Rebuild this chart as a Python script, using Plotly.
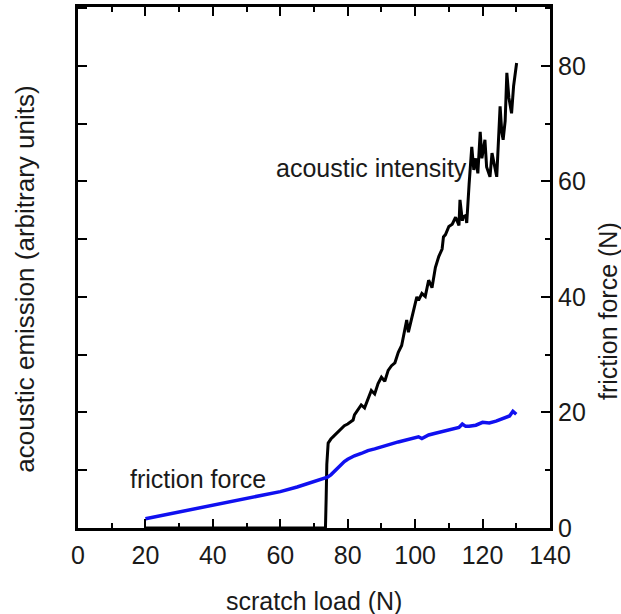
import plotly.graph_objects as go

# acoustic intensity (black)
ae_load = [20, 73.4, 73.6, 73.8, 74.2, 75, 76, 76.7, 78, 79, 80, 81, 81.6, 82, 83, 84, 85, 86, 86.6, 87, 88,
           89, 90, 91, 92, 93, 94, 95, 96, 97, 97.5, 98, 99, 100, 100.5, 101, 102, 103, 104, 104.4, 105,
           106, 107, 108, 108.4, 109, 110, 111, 112, 113, 113.3, 114, 114.3, 115, 115.3, 116, 116.8,
           117.4, 118, 118.6, 119.3, 119.8, 120.7, 121.2, 122.2, 122.8, 123.7, 124.2, 125.2, 125.7,
           126.1, 126.7, 127.2, 127.8, 128.6, 129.2, 130.1]
ae_val = [0, 0, 5, 11, 14.7, 15.4, 16.0, 16.4, 17.2, 17.7, 18.0, 18.4, 18.7, 19.6, 20.4, 21.3, 20.8, 22.4,
          23.3, 23.8, 23.2, 25.0, 26.1, 25.4, 27.3, 28.1, 28.6, 30.4, 31.6, 34.6, 36.0, 33.9, 36.6, 38.8,
          40.0, 39.4, 40.6, 40.1, 42.9, 42.4, 41.6, 45.1, 47.0, 48.3, 50.4, 50.8, 52.2, 52.6, 53.8, 52.4,
          56.8, 53.2, 53.9, 54.1, 52.8, 59.5, 66.0, 62.0, 64.0, 61.4, 68.6, 64.0, 67.2, 62.5, 60.8, 64.9,
          62.0, 60.8, 73.0, 68.5, 67.2, 70.5, 78.8, 74.5, 71.8, 76.5, 80.5]

# friction force (blue)
ff_load = [20, 25, 30, 35, 40, 45, 50, 55, 60, 65, 70, 72, 74, 75, 76, 77, 78, 79, 80, 82, 84, 86,
           88, 90, 92, 95, 98, 100, 101, 102, 104, 106, 108, 110, 112, 113, 114, 115, 116, 118, 120,
           122, 124, 126, 127, 128, 129, 130]
ff_val = [1.6, 2.2, 2.8, 3.4, 4.0, 4.6, 5.1, 5.7, 6.3, 7.1, 8.0, 8.4, 8.8, 9.2, 9.8, 10.4, 11.0, 11.5,
          11.9, 12.5, 12.9, 13.4, 13.7, 14.1, 14.4, 14.9, 15.3, 15.6, 15.8, 15.5, 16.1, 16.4, 16.7, 17.0,
          17.3, 17.4, 18.0, 17.6, 17.6, 17.8, 18.3, 18.2, 18.5, 19.0, 19.1, 19.4, 20.2, 19.7]

x_range = [0, 140]
y_range = [0, 90.2]

FONT = "Liberation Sans, Arial, sans-serif"
TXT = "#1a1a1a"
FS = 25

fig = go.Figure()
fig.add_trace(go.Scatter(x=ae_load, y=ae_val, mode="lines",
                         line=dict(color="black", width=3), xaxis="x", yaxis="y", showlegend=False))
fig.add_trace(go.Scatter(x=ff_load, y=ff_val, mode="lines",
                         line=dict(color="#1010f0", width=3.5), xaxis="x2", yaxis="y2", showlegend=False))

tick_common = dict(ticks="inside", ticklen=9, tickwidth=2, tickcolor="black",
                   showline=True, linewidth=3, linecolor="black", showgrid=False, zeroline=False)
minor_common = dict(dtick=10, ticks="inside", ticklen=5, tickwidth=2, tickcolor="black")

fig.update_layout(
    width=621, height=614,
    margin=dict(l=78, r=71, t=7, b=86),
    paper_bgcolor="white", plot_bgcolor="white",
    font=dict(family=FONT, size=FS, color=TXT),
    xaxis=dict(range=x_range, tick0=0, dtick=20, minor=minor_common,
               tickfont=dict(size=FS, color=TXT), ticklabelstandoff=3, **tick_common),
    xaxis2=dict(range=x_range, overlaying="x", side="top", anchor="y2", tick0=0, dtick=20,
                minor=minor_common, showticklabels=False, **tick_common),
    yaxis=dict(range=y_range, dtick=10, showticklabels=False, **tick_common),
    yaxis2=dict(range=y_range, overlaying="y", side="right", anchor="x2", tick0=0, dtick=20,
                minor=minor_common, tickfont=dict(size=FS, color=TXT), **tick_common),
    annotations=[
        dict(text="acoustic intensity", x=87.1, y=62.3, xref="x", yref="y", showarrow=False,
             font=dict(size=FS, color=TXT)),
        dict(text="friction force", x=35.7, y=8.4, xref="x", yref="y", showarrow=False,
             font=dict(size=FS, color=TXT)),
        dict(text="scratch load (N)", x=0.5, y=-0.14, xref="paper", yref="paper",
             showarrow=False, yanchor="middle", font=dict(size=FS, color=TXT)),
        dict(text="acoustic emission (arbitrary units)", x=-0.113, y=0.478, xref="paper",
             yref="paper", showarrow=False, textangle=-90, xanchor="center", yanchor="middle",
             font=dict(size=26, color=TXT)),
        dict(text="friction force (N)", x=1.123, y=0.4165, xref="paper", yref="paper",
             showarrow=False, textangle=-90, xanchor="center", yanchor="middle",
             font=dict(size=FS, color=TXT)),
    ],
)

fig.write_html("out.html")
